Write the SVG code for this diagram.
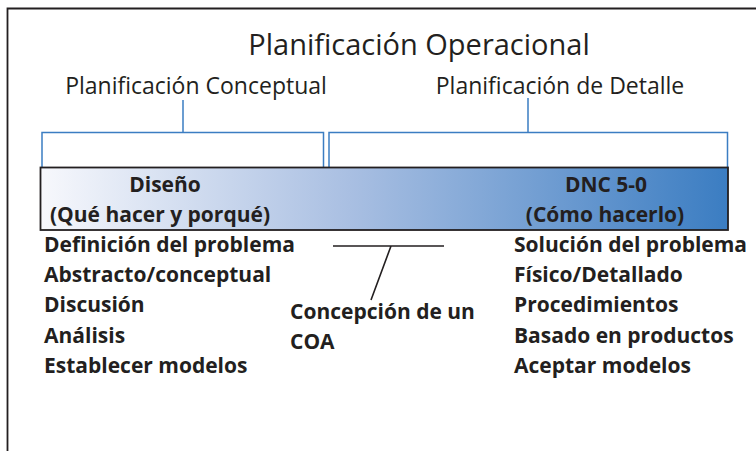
<svg xmlns="http://www.w3.org/2000/svg" width="756" height="451" viewBox="0 0 756 451">
<defs>
<linearGradient id="g" x1="0" y1="0" x2="1" y2="0">
<stop offset="0" stop-color="#f7f8fc"/>
<stop offset="0.45" stop-color="#a9bfe2"/>
<stop offset="1" stop-color="#3b7dc2"/>
</linearGradient>
<style>
.t{font-family:"Open Sans","Liberation Sans",sans-serif;fill:#231f20}
.b{font-family:"Open Sans","Liberation Sans",sans-serif;font-weight:bold;fill:#231f20;font-size:21px}
.br{fill:none;stroke:#3b7dc2;stroke-width:1.5}
.ln{fill:none;stroke:#231f20;stroke-width:1.6}
</style>
</defs>
<rect width="756" height="451" fill="#fff"/>
<path d="M7.5 451 V8.5 H756" fill="none" stroke="#231f20" stroke-width="1.8"/>
<text class="t" x="419" y="55" font-size="29" text-anchor="middle">Planificación Operacional</text>
<g id="conceptual">
<text class="t" x="196" y="94" font-size="23" text-anchor="middle">Planificación Conceptual</text>
</g>
<g id="detalle">
<text class="t" x="560" y="94" font-size="23" text-anchor="middle">Planificación de Detalle</text>
</g>
<g id="connectors">
<path class="br" d="M42 167 V132.5 H323.5 V167 M183 100 V132.5"/>
<path class="br" d="M329 167 V132.5 H727.5 V167 M528 98 V132.5"/>
<path class="ln" d="M333 246 H444 M391 246 L371 300"/>
</g>
<g id="bar">
<rect x="40.5" y="167.5" width="687.5" height="62.5" fill="url(#g)" stroke="#231f20" stroke-width="1.8"/>
<text class="b" x="165" y="192" text-anchor="middle">Diseño</text>
<text class="b" x="160" y="222" text-anchor="middle">(Qué hacer y porqué)</text>
<text class="b" x="606" y="192" text-anchor="middle">DNC 5-0</text>
<text class="b" x="605" y="222" text-anchor="middle">(Cómo hacerlo)</text>
</g>
<g id="left-list">
<text class="b" x="44" y="252">Definición del problema</text>
<text class="b" x="44" y="282">Abstracto/conceptual</text>
<text class="b" x="44" y="312">Discusión</text>
<text class="b" x="44" y="343">Análisis</text>
<text class="b" x="44" y="373">Establecer modelos</text>
</g>
<g id="coa">
<text class="b" x="290" y="319">Concepción de un</text>
<text class="b" x="290" y="349">COA</text>
</g>
<g id="right-list">
<text class="b" x="514" y="252">Solución del problema</text>
<text class="b" x="514" y="282">Físico/Detallado</text>
<text class="b" x="514" y="312">Procedimientos</text>
<text class="b" x="514" y="343">Basado en productos</text>
<text class="b" x="514" y="373">Aceptar modelos</text>
</g>
</svg>
